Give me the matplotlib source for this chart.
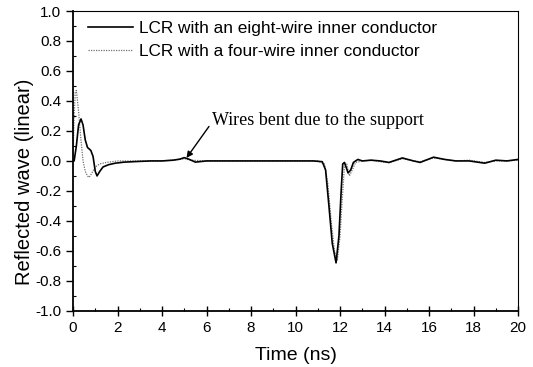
import matplotlib
matplotlib.use("Agg")
import matplotlib.pyplot as plt
from matplotlib.ticker import MultipleLocator, FormatStrFormatter

# Eight-wire inner conductor (solid)
t_eight = [0, 0.05, 0.15, 0.25, 0.36, 0.45, 0.55, 0.65, 0.8, 0.9, 1.0, 1.08, 1.2,
           1.35, 1.6, 1.9, 2.3, 3.0, 3.5, 4.0, 4.5, 4.8, 5.0, 5.2, 5.5, 6.0, 7.0,
           8.0, 9.0, 10.0, 10.8, 11.2, 11.35, 11.5, 11.65, 11.82, 11.95, 12.05,
           12.12, 12.2, 12.36, 12.48, 12.6, 12.8, 13.0, 13.4, 13.8, 14.2, 14.8,
           15.3, 15.6, 16.2, 16.7, 17.2, 17.8, 18.5, 19.0, 19.5, 20.0]
v_eight = [0, 0.0, 0.1, 0.24, 0.28, 0.24, 0.14, 0.09, 0.07, 0.03, -0.07, -0.1, -0.07,
           -0.04, -0.025, -0.015, -0.008, -0.003, 0.0, 0.0, 0.005, 0.012, 0.022,
           0.012, -0.008, 0.0, 0.0, 0.0, 0.0, 0.0, 0.0, -0.005, -0.06, -0.3, -0.55,
           -0.68, -0.5, -0.2, -0.02, -0.01, -0.08, -0.06, -0.01, 0.01, 0.0, 0.005,
           0.0, -0.01, 0.02, 0.0, -0.01, 0.025, 0.01, 0.0, 0.0, -0.015, 0.005,
           0.0, 0.01]

# Four-wire inner conductor (dotted)
t_four = [0, 0.05, 0.1, 0.15, 0.25, 0.35, 0.45, 0.55, 0.65, 0.72, 0.85, 1.0, 1.2,
          1.5, 2.0, 3.0, 4.0, 4.8, 5.0, 5.3, 6.0, 8.0, 10.0, 11.0, 11.3, 11.45,
          11.6, 11.75, 11.88, 12.0, 12.1, 12.2, 12.3, 12.42, 12.55, 12.7, 13.0,
          13.4, 13.8, 14.2, 14.8, 15.3, 15.6, 16.2, 16.7, 17.2, 17.8, 18.5, 19.0,
          19.5, 20.0]
v_four = [0.0, 0.3, 0.46, 0.47, 0.33, 0.15, 0.0, -0.07, -0.1, -0.11, -0.08, -0.04,
          -0.02, -0.01, 0.0, 0.0, 0.0, 0.01, 0.015, 0.005, 0.0, 0.0, 0.0, 0.0,
          -0.02, -0.15, -0.4, -0.6, -0.66, -0.5, -0.25, -0.03, -0.02, -0.1, -0.06,
          -0.01, 0.0, 0.005, -0.005, -0.012, 0.015, 0.0, -0.005, 0.02, 0.01, 0.0,
          0.005, -0.01, 0.0, 0.0, 0.005]

labels = ["LCR with an eight-wire inner conductor",
          "LCR with a four-wire inner conductor"]
annotation = "Wires bent due to the support"

plt.rcParams['font.family'] = ['Liberation Sans', 'DejaVu Sans']

fig = plt.figure(figsize=(5.33, 3.67), dpi=100)
ax = fig.add_axes([0.137, 0.153, 0.835, 0.817])

ax.plot(t_four, v_four, color='#707070', lw=0.9, linestyle=(0, (1, 1)), label=labels[1])
ax.plot(t_eight, v_eight, color='black', lw=1.2, label=labels[0])

ax.set_xlim(0, 20)
ax.set_ylim(-1.0, 1.0)
ax.xaxis.set_major_locator(MultipleLocator(2))
ax.yaxis.set_major_locator(MultipleLocator(0.2))
ax.xaxis.set_minor_locator(MultipleLocator(1))
ax.yaxis.set_minor_locator(MultipleLocator(0.1))
ax.yaxis.set_major_formatter(FormatStrFormatter('%.1f'))
ax.tick_params(which='major', direction='out', length=5, width=1, labelsize=11)
ax.tick_params(axis='x', which='major', direction='inout', length=7)
ax.tick_params(which='minor', direction='in', length=2.5, width=0.8)

for s in ['left', 'bottom']:
    ax.spines[s].set_linewidth(1.3)
for s in ['top', 'right']:
    ax.spines[s].set_linewidth(0.8)

ax.set_xlabel("Time (ns)", fontsize=14, labelpad=9)
ax.set_ylabel("Reflected wave (linear)", fontsize=14.5)
ax.yaxis.set_label_coords(-0.087, 0.43)

h, l = ax.get_legend_handles_labels()
ax.legend(h[::-1], l[::-1], loc='upper left', frameon=False,
          prop={'size': 12.4},
          handlelength=2.6, handletextpad=0.4, borderaxespad=0.2,
          labelspacing=0.45, bbox_to_anchor=(0.01, 1.0))

ax.text(6.25, 0.27, annotation, fontsize=13, fontfamily='Liberation Serif',
        va='center', ha='left')
ax.annotate('', xy=(5.1, 0.02), xytext=(6.11, 0.23),
            arrowprops=dict(arrowstyle='-|>', color='black', lw=1.0,
                            shrinkA=0, shrinkB=0, mutation_scale=9))

fig.savefig("out.png", dpi=100)
